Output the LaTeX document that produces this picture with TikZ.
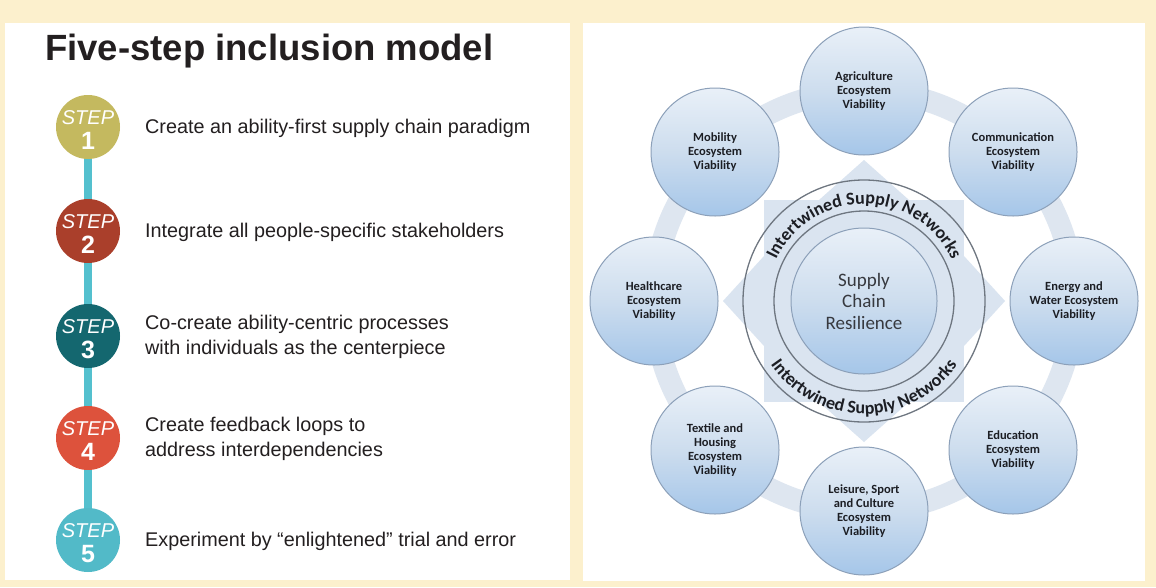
\documentclass[tikz,border=0pt]{standalone}
\usepackage{fontspec}
\setmainfont{Liberation Sans}
\newfontfamily\calibri{Carlito}
\usepackage{xcolor}
\definecolor{Cream}{RGB}{252,240,205}
\definecolor{White}{RGB}{255,255,255}
\definecolor{Ink}{RGB}{35,31,32}
\definecolor{Olive}{RGB}{196,185,95}
\definecolor{Rust}{RGB}{170,63,43}
\definecolor{Petrol}{RGB}{20,103,111}
\definecolor{Coral}{RGB}{221,82,60}
\definecolor{Aqua}{RGB}{82,186,200}
\definecolor{Link}{RGB}{84,192,206}
\definecolor{Faint}{RGB}{218,228,240}
\definecolor{Band}{RGB}{222,230,240}
\definecolor{CircTop}{RGB}{233,240,248}
\definecolor{CircMid}{RGB}{205,221,238}
\definecolor{CircBot}{RGB}{165,198,233}
\definecolor{CircEdge}{RGB}{140,160,185}
\definecolor{RingLine}{RGB}{110,118,128}
\definecolor{Label}{RGB}{28,30,36}
\definecolor{HubInk}{RGB}{55,57,63}
\usepackage{tikz}
\usetikzlibrary{decorations.text}

\tikzset{
	stepdot/.style={circle, minimum size=64pt, inner sep=0pt},
	steptag/.style={anchor=base, inner sep=0pt, text=White, font=\fontsize{20}{20}\selectfont\itshape},
	stepnum/.style={anchor=base, inner sep=0pt, text=White, font=\fontsize{25}{25}\selectfont\bfseries},
	stepline/.style={anchor=west, inner sep=0pt, align=left, text=Ink, font=\fontsize{19.8}{25}\selectfont},
	steplink/.style={draw=Link, line width=8pt},
	eco/.style={circle, minimum size=128pt, inner sep=0pt, draw=CircEdge, line width=1pt, top color=CircTop, bottom color=CircBot, middle color=CircMid, align=center, text=Label, font=\calibri\fontsize{12.5}{14}\selectfont\bfseries},
	hub/.style={circle, minimum size=146pt, inner sep=0pt, draw=CircEdge, line width=1pt, top color=CircTop, bottom color=CircBot, middle color=CircMid, align=center, text=HubInk, font=\calibri\fontsize{19}{21.5}\selectfont},
	ringline/.style={draw=RingLine, line width=1.3pt},
}

\begin{document}
\begin{tikzpicture}[x=1pt, y=1pt]
		
		% Background
		\fill[Cream] (0,0) rectangle (1156,-587);
		\useasboundingbox (0,0) rectangle (1156,-587);
		
		% Panels
		\fill[White] (5,-23) rectangle (570,-580);
		\fill[White] (583,-23) rectangle (1145,-581);
		
		% Title
		\node[anchor=base west, inner sep=0pt, text=Ink, font=\fontsize{36.5}{40}\selectfont\bfseries] (title) at (45,-60) {Five-step inclusion model};
		
		% Steps
		\node[stepdot, fill=Olive] (s1) at (88,-127) {};
		\node[stepdot, fill=Rust] (s2) at (88,-231) {};
		\node[stepdot, fill=Petrol] (s3) at (88,-336) {};
		\node[stepdot, fill=Coral] (s4) at (88,-438) {};
		\node[stepdot, fill=Aqua] (s5) at (88,-540) {};
		
		% Links
		\draw[steplink] (s1) -- (s2);
		\draw[steplink] (s2) -- (s3);
		\draw[steplink] (s3) -- (s4);
		\draw[steplink] (s4) -- (s5);
		
		% Names
		\node[steptag] (t1) at (88,-124) {STEP};
		\node[stepnum] (n1) at (88,-149) {1};
		\node[steptag] (t2) at (88,-228) {STEP};
		\node[stepnum] (n2) at (88,-253) {2};
		\node[steptag] (t3) at (88,-333) {STEP};
		\node[stepnum] (n3) at (88,-358) {3};
		\node[steptag] (t4) at (88,-435) {STEP};
		\node[stepnum] (n4) at (88,-460) {4};
		\node[steptag] (t5) at (88,-537) {STEP};
		\node[stepnum] (n5) at (88,-562) {5};
		
		% Texts
		\node[stepline] (d1) at (145,-128) {Create an ability-first supply chain paradigm};
		\node[stepline] (d2) at (145,-232) {Integrate all people-specific stakeholders};
		\node[stepline] (d3) at (145,-337) {Co-create ability-centric processes\\with individuals as the centerpiece};
		\node[stepline] (d4) at (145,-439) {Create feedback loops to\\address interdependencies};
		\node[stepline] (d5) at (145,-541) {Experiment by “enlightened” trial and error};
		
		% Band
		\draw[Band, line width=22pt] (864,-301) circle[radius=210];
		
		% Arrows
		\fill[Faint] (764,-200) rectangle (964,-402);
		\fill[Faint] (819,-200) -- (864,-160) -- (909,-200) -- cycle;
		\fill[Faint] (764,-256) -- (723,-301) -- (764,-346) -- cycle;
		\fill[Faint] (964,-256) -- (1005,-301) -- (964,-346) -- cycle;
		\fill[Faint] (819,-402) -- (864,-442) -- (909,-402) -- cycle;
		
		% Rings
		\draw[ringline] (864,-301) circle[radius=121];
		\draw[ringline] (864,-301) circle[radius=90];
		
		% Hub
		\node[hub] (hub) at (864,-301) {Supply\\Chain\\Resilience};
		
		\path[decorate, decoration={text along path, text align=center, text color=Label,
			text={|\calibri\fontsize{18}{18}\selectfont\bfseries|Intertwined Supply Networks}}]
			(864,-301) ++(165:97) arc[start angle=165, end angle=15, radius=97];
		\path[decorate, decoration={text along path, text align=center, text color=Label,
			text={|\calibri\fontsize{18}{18}\selectfont\bfseries|Intertwined Supply Networks}}]
			(864,-301) ++(195:113) arc[start angle=195, end angle=345, radius=113];
		
		% Ecosystems
		\node[eco] (agri) at (864,-91) {Agriculture\\Ecosystem\\Viability};
		\node[eco] (comm) at (1013,-152) {Communication\\Ecosystem\\Viability};
		\node[eco] (enwa) at (1074,-301) {Energy and\\Water Ecosystem\\Viability};
		\node[eco] (educ) at (1013,-450) {Education\\Ecosystem\\Viability};
		\node[eco] (leis) at (864,-511) {Leisure, Sport\\and Culture\\Ecosystem\\Viability};
		\node[eco] (texh) at (715,-450) {Textile and\\Housing\\Ecosystem\\Viability};
		\node[eco] (heal) at (654,-301) {Healthcare\\Ecosystem\\Viability};
		\node[eco] (mobi) at (715,-152) {Mobility\\Ecosystem\\Viability};
		
	\end{tikzpicture}
\end{document}
